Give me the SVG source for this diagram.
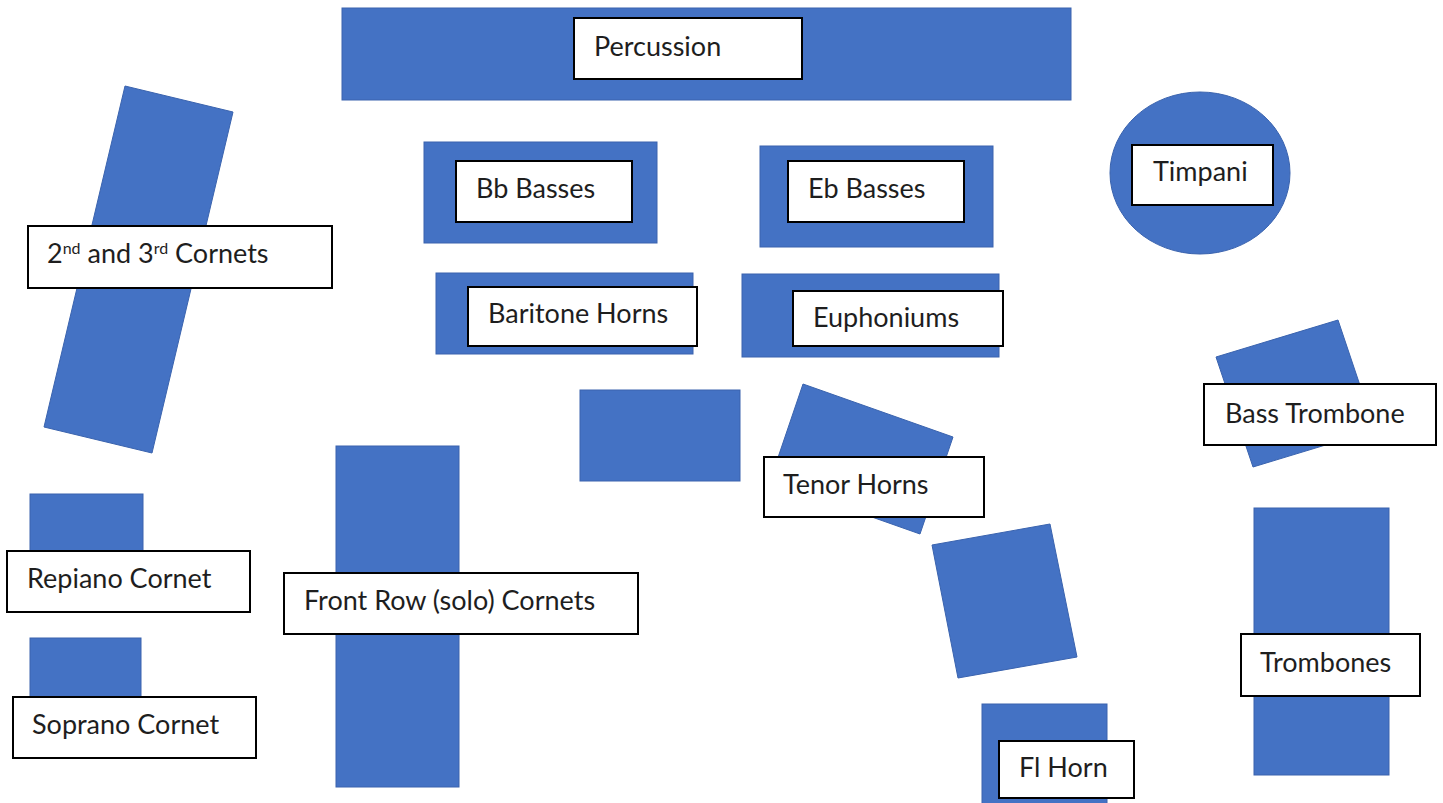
<svg xmlns="http://www.w3.org/2000/svg" width="1443" height="803" viewBox="0 0 1443 803">
<style>
.blk{fill:#4472C4;stroke:#3A63AE;stroke-width:1}
.lbl{fill:#FFFFFF;stroke:#000000;stroke-width:2}
.t{font-family:Lato,"Open Sans","Liberation Sans",sans-serif;font-size:27px;fill:#1E1E1E}
.sup{font-size:16px}
</style>
<rect x="0" y="0" width="1443" height="803" fill="#FFFFFF"/>
<g id="connectors"/>
<g id="percussion">
<rect class="blk" x="342" y="8" width="729" height="92"/>
<rect class="lbl" x="574" y="18" width="228" height="61"/>
<text class="t" x="594" y="56">Percussion</text>
</g>
<g id="timpani">
<ellipse class="blk" cx="1200" cy="173" rx="90" ry="81"/>
<rect class="lbl" x="1132" y="145" width="141" height="60"/>
<text class="t" x="1153" y="181">Timpani</text>
</g>
<g id="bb-basses">
<rect class="blk" x="424" y="142" width="233" height="101"/>
<rect class="lbl" x="456" y="161" width="176" height="61"/>
<text class="t" x="476" y="198">Bb Basses</text>
</g>
<g id="eb-basses">
<rect class="blk" x="760" y="146" width="233" height="101"/>
<rect class="lbl" x="788" y="161" width="176" height="61"/>
<text class="t" x="808" y="198">Eb Basses</text>
</g>
<g id="baritone-horns">
<rect class="blk" x="436" y="273" width="257" height="81"/>
<rect class="lbl" x="468" y="287" width="229" height="59"/>
<text class="t" x="488" y="323">Baritone Horns</text>
</g>
<g id="euphoniums">
<rect class="blk" x="742" y="274" width="257" height="83"/>
<rect class="lbl" x="793" y="291" width="210" height="55"/>
<text class="t" x="813" y="327">Euphoniums</text>
</g>
<g id="cornets-2nd-3rd">
<polygon class="blk" points="125,86 233,112 152,453 44,427"/>
<rect class="lbl" x="28" y="226" width="304" height="62"/>
<text class="t" x="47" y="263">2<tspan class="sup" baseline-shift="super">nd</tspan> and 3<tspan class="sup" baseline-shift="super">rd</tspan> Cornets</text>
</g>
<g id="unlabeled-block">
<rect class="blk" x="580" y="390" width="160" height="91"/>
</g>
<g id="tenor-horns">
<polygon class="blk" points="803,384 953,437 920,534 770,481"/>
<rect class="lbl" x="764" y="457" width="220" height="60"/>
<text class="t" x="783" y="494">Tenor Horns</text>
</g>
<g id="bass-trombone">
<polygon class="blk" points="1216,357 1338,320 1375,430 1253,467"/>
<rect class="lbl" x="1204" y="384" width="232" height="61"/>
<text class="t" x="1225" y="423">Bass Trombone</text>
</g>
<g id="tilted-block">
<polygon class="blk" points="932,545 1050,524 1077,657 958,678"/>
</g>
<g id="repiano-cornet">
<rect class="blk" x="30" y="494" width="113" height="60"/>
<rect class="lbl" x="7" y="551" width="243" height="61"/>
<text class="t" x="27" y="588">Repiano Cornet</text>
</g>
<g id="soprano-cornet">
<rect class="blk" x="30" y="638" width="111" height="62"/>
<rect class="lbl" x="13" y="697" width="243" height="61"/>
<text class="t" x="32" y="734">Soprano Cornet</text>
</g>
<g id="front-row-cornets">
<rect class="blk" x="336" y="446" width="123" height="341"/>
<rect class="lbl" x="284" y="573" width="354" height="61"/>
<text class="t" x="304" y="610">Front Row (solo) Cornets</text>
</g>
<g id="trombones">
<rect class="blk" x="1254" y="508" width="135" height="267"/>
<rect class="lbl" x="1241" y="634" width="179" height="62"/>
<text class="t" x="1260" y="672">Trombones</text>
</g>
<g id="fl-horn">
<rect class="blk" x="982" y="704" width="125" height="100"/>
<rect class="lbl" x="999" y="741" width="135" height="57"/>
<text class="t" x="1019" y="777">Fl Horn</text>
</g>
</svg>
